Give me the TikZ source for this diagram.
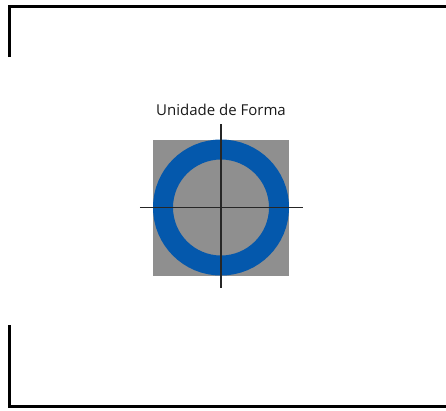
\documentclass[tikz,border=0pt]{standalone}
\usepackage{fontspec}
\newfontfamily\labelfont{Open Sans}
\usepackage{xcolor}
\usetikzlibrary{positioning,calc}

\definecolor{unitgray}{RGB}{143,143,143}
\definecolor{ringblue}{RGB}{4,88,172}

\begin{document}
\begin{tikzpicture}[x=1pt, y=-1pt,
  frame/.style={line width=3pt, color=black},
  axis/.style={line width=1.3pt, color=black!85},
  ring/.style={line width=20pt, color=ringblue},
  unitbox/.style={fill=unitgray, draw=none, minimum size=136pt, inner sep=0pt},
  ttl/.style={font=\labelfont\fontsize{15}{17}\selectfont, inner sep=0pt, color=black!90},
]
\useasboundingbox (0,0) rectangle (446,410);

% ─── Frame corners (top and bottom) ───
\draw[frame] (9,57) -- (9,6) -- (446,6);
\draw[frame] (9,325) -- (9,406.5) -- (446,406.5);

% ─── Shape unit: grey square with blue ring ───
\node[unitbox] (unit) at (221,207.5) {};
\draw[ring] (unit.center) circle[radius=58pt];

% ─── Cross lines ───
\draw[axis] ([xshift=-13pt]unit.west) -- ([xshift=14pt]unit.east);
\draw[axis] ([yshift=15pt]unit.north) -- ([yshift=-12pt]unit.south);

% ─── Title ───
\node[ttl, above=23pt of unit] (title) {Unidade de Forma};

\end{tikzpicture}
\end{document}
